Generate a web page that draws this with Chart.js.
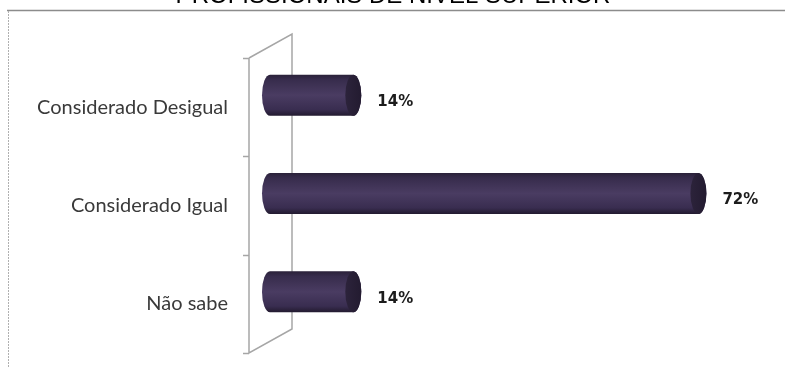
<!DOCTYPE html>
<html>
<head>
<meta charset="utf-8">
<script src="https://cdn.jsdelivr.net/npm/chart.js@4/dist/chart.umd.min.js"></script>
<style>
  html, body { margin: 0; padding: 0; background: #fff; }
  #wrap { width: 785px; height: 367px; }
</style>
</head>
<body>
<div id="wrap"><canvas id="c" width="785" height="367"></canvas></div>
<script>
// Data
const categories = ['Considerado Desigual', 'Considerado Igual', 'Não sabe'];
const shares = [14, 72, 14];
const valueLabels = ['14%', '72%', '14%'];
const titleText = 'PROFISSIONAIS DE NÍVEL SUPERIOR';

// 3D look: depth offset of the back wall and the bar mid-plane
const DEPTH_X = 43, DEPTH_Y = 24;
const BAR_DX = 21, BAR_DY = 12;
const CAP_RX = 8;

const framePlugin = {
  id: 'frame',
  beforeDraw(chart) {
    const ctx = chart.ctx;
    ctx.save();
    // title (partly above the canvas)
    ctx.fillStyle = '#000';
    ctx.font = '24px "Liberation Sans", Arial, sans-serif';
    ctx.textAlign = 'center';
    ctx.textBaseline = 'alphabetic';
    ctx.fillText(titleText, 393, 3);
    // outer frame
    ctx.strokeStyle = '#8c8c8c';
    ctx.lineWidth = 1.5;
    ctx.beginPath();
    ctx.moveTo(7, 10.5);
    ctx.lineTo(785, 10.5);
    ctx.stroke();
    ctx.strokeStyle = '#b0b0b0';
    ctx.lineWidth = 1;
    ctx.setLineDash([2, 1]);
    ctx.beginPath();
    ctx.moveTo(8.5, 11);
    ctx.lineTo(8.5, 367);
    ctx.stroke();
    ctx.restore();
  }
};

const cylinderPlugin = {
  id: 'cylinders',
  afterDatasetsDraw(chart) {
    const ctx = chart.ctx;
    const xs = chart.scales.x, ys = chart.scales.y;
    const area = chart.chartArea;
    const n = categories.length;
    const band = (area.bottom - area.top) / n;
    ctx.save();

    // side wall of the category axis
    ctx.strokeStyle = '#a6a6a6';
    ctx.lineWidth = 1.5;
    ctx.beginPath();
    ctx.moveTo(area.left, area.top);
    ctx.lineTo(area.left, area.bottom);
    ctx.lineTo(area.left + DEPTH_X, area.bottom - DEPTH_Y);
    ctx.lineTo(area.left + DEPTH_X, area.top - DEPTH_Y);
    ctx.lineTo(area.left, area.top);
    ctx.stroke();
    // tick marks at category boundaries
    ctx.beginPath();
    for (let i = 0; i <= n; i++) {
      const y = Math.round(ys.getPixelForValue(0) - band / 2 + i * band) + 0.5;
      ctx.moveTo(area.left - 6, y);
      ctx.lineTo(area.left, y);
    }
    ctx.stroke();

    // cylinders
    const thick = 41, ry = thick / 2;
    shares.forEach((v, i) => {
      const cy = ys.getPixelForValue(i) - BAR_DY;
      const x0 = xs.getPixelForValue(0) + BAR_DX;
      const x1 = xs.getPixelForValue(v) + BAR_DX;
      const top = cy - ry, bot = cy + ry;
      const g = ctx.createLinearGradient(0, top, 0, bot);
      g.addColorStop(0, '#2a2139');
      g.addColorStop(0.12, '#372c4c');
      g.addColorStop(0.5, '#4a3c62');
      g.addColorStop(0.85, '#392d50');
      g.addColorStop(1, '#221a2f');
      ctx.fillStyle = g;
      ctx.beginPath();
      ctx.moveTo(x0, top);
      ctx.lineTo(x1, top);
      ctx.ellipse(x1, cy, CAP_RX, ry, 0, -Math.PI / 2, Math.PI / 2);
      ctx.lineTo(x0, bot);
      ctx.ellipse(x0, cy, CAP_RX, ry, 0, Math.PI / 2, Math.PI * 1.5);
      ctx.closePath();
      ctx.fill();
      // end face
      const cg = ctx.createLinearGradient(x1 - CAP_RX, 0, x1 + CAP_RX, 0);
      cg.addColorStop(0, '#2c233b');
      cg.addColorStop(1, '#231b30');
      ctx.fillStyle = cg;
      ctx.beginPath();
      ctx.ellipse(x1, cy, CAP_RX, ry, 0, 0, Math.PI * 2);
      ctx.fill();

      // value label
      ctx.fillStyle = '#1c1c1c';
      ctx.font = 'bold 15px "DejaVu Sans", Verdana, sans-serif';
      ctx.textAlign = 'left';
      ctx.textBaseline = 'middle';
      ctx.fillText(valueLabels[i], xs.getPixelForValue(v) + 45, ys.getPixelForValue(i) - 5);
    });
    ctx.restore();
  }
};

new Chart(document.getElementById('c'), {
  type: 'bar',
  data: {
    labels: categories,
    datasets: [{
      data: shares,
      backgroundColor: 'rgba(0,0,0,0)',
      borderWidth: 0,
      barThickness: 41
    }]
  },
  options: {
    indexAxis: 'y',
    responsive: false,
    animation: false,
    devicePixelRatio: 1,
    layout: { padding: { left: 0, top: 58, right: 60, bottom: 14 } },
    scales: {
      x: { display: false, min: 0, max: 80 },
      y: {
        afterFit(s) {
          s.width = 249;
          s.paddingTop = 0;
          s.paddingBottom = 0;
        },
        grid: { display: false, drawTicks: false },
        border: { display: false },
        ticks: {
          padding: 21,
          color: '#3a3a3a',
          font: { family: 'Lato, "Open Sans", sans-serif', size: 20 }
        }
      }
    },
    plugins: {
      legend: { display: false },
      tooltip: { enabled: false }
    }
  },
  plugins: [framePlugin, cylinderPlugin]
});
</script>
</body>
</html>
